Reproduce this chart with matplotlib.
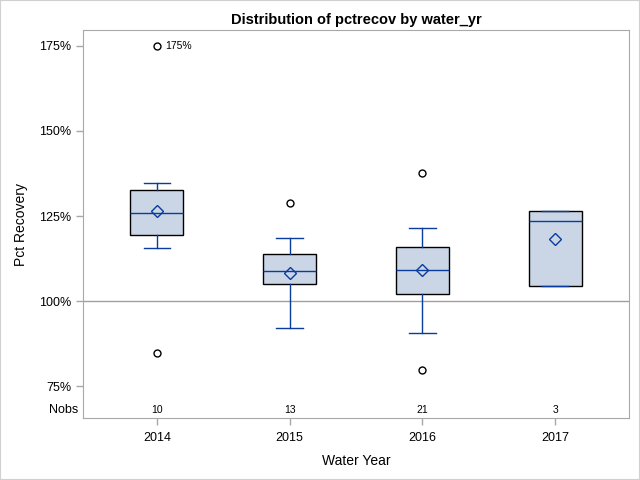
import matplotlib
matplotlib.use('Agg')
import matplotlib.pyplot as plt
import matplotlib.transforms as mtransforms
from matplotlib.patches import Rectangle

plt.rcParams['font.family'] = ['Liberation Sans', 'DejaVu Sans']

years = ['2014', '2015', '2016', '2017']
nobs = [10, 13, 21, 3]
whislo = [115.6, 92.1, 90.5, 104.4]
q1 = [119.4, 104.9, 102.0, 104.4]
med = [125.9, 108.8, 109.1, 123.5]
q3 = [132.6, 113.7, 115.8, 126.4]
whishi = [134.7, 118.4, 121.4, 126.4]
means = [126.5, 108.1, 109.1, 118.1]
fliers = [[175.0, 84.7], [128.9], [137.6, 79.7], []]

yticks = [75, 100, 125, 150, 175]

fill_col = '#CAD5E5'
line_col = '#0A3C9E'
frame_col = '#A8A8A8'

fig = plt.figure(figsize=(6.4, 4.8), dpi=100)
fig.patches.append(Rectangle((0, 0), 1, 1, transform=fig.transFigure,
                             fill=False, edgecolor='#D0D0D0', linewidth=1.5))
ax = fig.add_axes([83 / 640, 62 / 480, 546 / 640, 388 / 480])

stats = []
for i in range(len(years)):
    stats.append({'whislo': whislo[i], 'q1': q1[i], 'med': med[i], 'q3': q3[i],
                  'whishi': whishi[i], 'mean': means[i], 'fliers': fliers[i],
                  'label': years[i]})

pos = list(range(len(years)))
ax.axhline(100, color='#A0A0A0', linewidth=1, zorder=0)
ax.bxp(stats, positions=pos, widths=0.4, patch_artist=True, showmeans=True,
       boxprops=dict(facecolor=fill_col, edgecolor='black', linewidth=1.0),
       medianprops=dict(color=line_col, linewidth=1.0),
       whiskerprops=dict(color=line_col, linewidth=1.0),
       capprops=dict(color=line_col, linewidth=1.0),
       capwidths=0.2,
       meanprops=dict(marker='D', markerfacecolor='none', markeredgecolor=line_col,
                      markersize=6, markeredgewidth=1.0),
       flierprops=dict(marker='o', markerfacecolor='none', markeredgecolor='black',
                       markersize=5, markeredgewidth=1))

# label for the extreme outlier
ax.annotate('175%', xy=(0, 175.0), xytext=(6, 0), textcoords='offset points',
            fontsize=7.5, va='center', ha='left')

ax.set_xlim(-0.557, 3.557)
ax.set_ylim(65.6, 179.7)
ax.set_yticks(yticks)
ax.set_yticklabels([f'{t}%' for t in yticks])
ax.set_xticks(pos)
ax.set_xticklabels(years)
ax.tick_params(axis='both', colors=frame_col, labelcolor='black', labelsize=9,
               length=5, width=1)
ax.tick_params(axis='x', pad=5)
for s in ax.spines.values():
    s.set_color(frame_col)

trans = mtransforms.blended_transform_factory(ax.transData, ax.transAxes)
for i, n in enumerate(nobs):
    ax.text(pos[i], 0.021, str(n), transform=trans, ha='center', va='center',
            fontsize=7.5)
ax.text(-0.008, 0.021, 'Nobs', transform=ax.transAxes, ha='right', va='center',
        fontsize=9)

ax.set_ylabel('Pct Recovery', fontsize=10, labelpad=8)
ax.set_xlabel('Water Year', fontsize=10, labelpad=7)
ax.set_title('Distribution of pctrecov by water_yr', fontsize=10.5,
             fontweight='bold', pad=4)

fig.savefig('out.png', dpi=100)
